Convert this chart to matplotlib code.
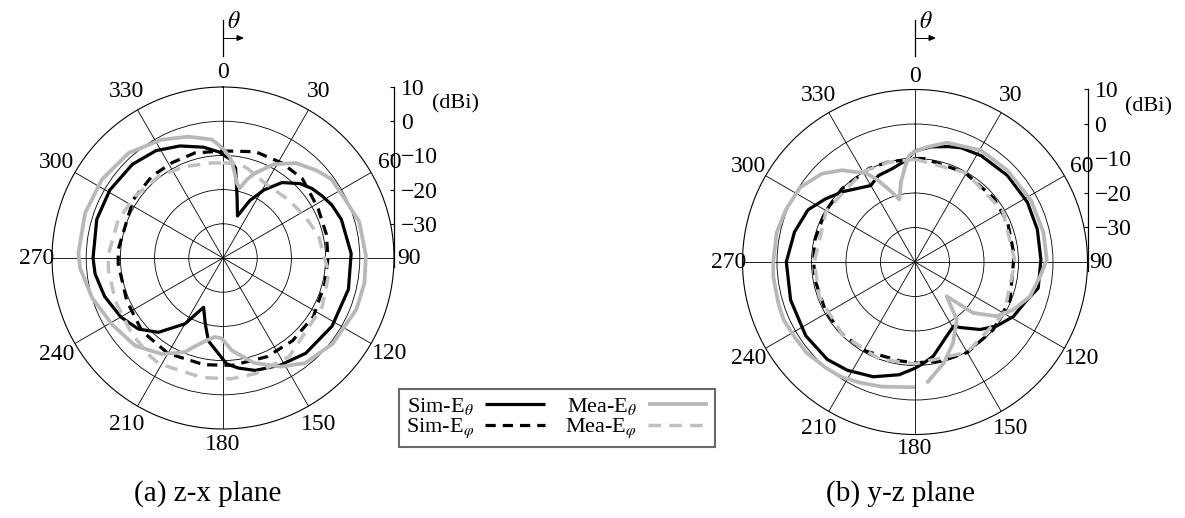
import matplotlib
matplotlib.use('Agg')
import matplotlib.pyplot as plt
import numpy as np
from matplotlib.lines import Line2D

plt.rcParams['font.family'] = ['Liberation Serif', 'DejaVu Serif']
plt.rcParams['mathtext.fontset'] = 'stix'
plt.rcParams['axes.unicode_minus'] = True

# ---------------- data (angle in degrees, gain in dBi) ----------------
# (a) z-x plane
a_sim_th_ang = [0, 4, 8, 13, 19, 25, 31, 38, 46, 52, 58, 64, 72, 88, 104, 122, 139, 152, 164, 172,
                178, 181, 190, 195, 201.5, 210, 221, 230, 240, 252, 263, 270, 287, 301, 316, 328,
                339, 350, 358]
a_sim_th_val = [-9.8, -11, -13.5, -21.7, -27, -21.5, -16.8, -12, -8.7, -7, -5.8, -4.6, -3.6, -2.5,
                -2.2, -2.4, -3.1, -4.5, -5.8, -7.5, -9, -11, -15.4, -20, -24.5, -17.8, -11.2, -7.7,
                -5.5, -3.6, -2.3, -2, -1.4, -1.4, -1.9, -3, -4.9, -7.1, -9]

a_sim_ph_ang = [0, 17, 32, 45, 57, 63, 77, 90, 104, 123, 140, 156, 175, 190, 210, 228, 246, 267,
                275, 303, 319, 332, 345]
a_sim_ph_val = [-8.7, -7.5, -7.3, -7.2, -8.5, -8.7, -9, -9.3, -9.3, -8.5, -8.4, -8.4, -8.5, -8.3,
                -7.8, -8.1, -9.2, -9.3, -9.3, -8.7, -8.3, -8.4, -8.2]

a_mea_th_ang = [0, 4, 7, 10.6, 13.5, 17, 20.5, 28.5, 37.5, 47, 54, 63, 75, 89, 100, 111, 128,
                142, 152, 163.5, 174.5, 181, 186, 192, 198.5, 202, 212.5, 225, 239, 253, 266,
                272, 288, 303, 318, 332.5, 344, 354.5, 357]
a_mea_th_val = [-8, -10.5, -14, -17.8, -19, -16, -13.6, -8.8, -5, -2.5, -0.8, -0.5, 1.2, 1.8, 2,
                1.8, 0.7, -1, -4, -8, -12.8, -16.5, -16.8, -15.2, -12.5, -10.3, -6.7, -3.7, -2.2,
                0, 1.9, 2.3, 2.4, 2.2, 1.3, -1, -3.1, -5.2, -6.5]

a_mea_ph_ang = [0, 10, 16, 30, 48, 63, 77, 89, 98, 116, 146, 164, 176, 190, 211, 216, 230, 248,
                264, 272, 290, 305, 322, 337, 353]
a_mea_ph_val = [-12.2, -12, -13, -15, -14.4, -13.1, -11.3, -10.5, -8.7, -7.7, -5.3, -4.9, -4.6,
                -4.5, -3.9, -4.2, -5.3, -6.1, -6.3, -6.5, -7.4, -8.6, -9.6, -11, -12]

# (b) y-z plane
b_sim_th_ang = [0, 8, 16, 22, 32, 47, 62, 75, 89, 102, 109, 119, 128, 136, 145, 149, 157, 169,
                175, 180, 188, 200, 212, 222, 236, 253, 270, 284, 296, 305, 314, 330, 337, 346, 355]
b_sim_th_val = [-7.8, -6.3, -5.2, -4.3, -3.7, -3.3, -3.1, -3.3, -3.5, -3.5, -5.8, -7.4, -9.9,
                -12.8, -16.8, -18.3, -16.6, -12.2, -10.6, -9.2, -7, -4.6, -3, -2, -1.8, -2.3,
                -2.7, -4, -5.5, -8.2, -10.7, -14.4, -12.8, -12.2, -10.4]

b_sim_ph_ang = [0, 5, 29, 51, 67, 86, 112, 131, 150, 166, 180, 189, 209, 225, 241, 259, 270, 283,
                299, 315, 334, 345]
b_sim_ph_val = [-10, -9.9, -10.3, -10.6, -10.8, -11.2, -10.3, -10, -9.7, -10.3, -10.8, -11,
                -10.5, -10.3, -10.4, -10.6, -10.6, -10.3, -10.2, -10, -9.8, -10]

b_mea_th_ang = [180, 195, 205, 213, 220, 230, 238, 246, 253, 264, 270, 282, 292, 303, 313.5, 321.5,
                326, 331, 335, 340, 346, 350, 354.5, 357, 360, 366, 375, 390.5, 405, 422, 437,
                449, 456.5, 466.6, 475.9, 483.6, 491.2, 497.3, 504, 515, 524, 534.5]
b_mea_th_val = [-3.7, -2.6, -1.5, -0.4, 0.1, 1, 1.1, 1.6, 1.4, 1.3, 1.1, 1, 0.4, -0.3, -2.8,
                -6, -8.5, -10.5, -13.5, -17.5, -21.3, -16.5, -11.7, -9, -8, -6.5, -4.2, -2.4, -2.3,
                -1.9, -1.8, -1.8, -3.5, -5.2, -8.3, -11.6, -17.6, -26.5, -19.4, -14, -9.6, -4.7]

b_mea_ph_ang = [0, 30, 60, 90, 120, 150, 180, 200, 225, 250, 270, 300, 330, 345]
b_mea_ph_val = [-10.2, -10.2, -10.6, -11, -10.2, -9.8, -10.5, -10, -10.2, -10.5, -10.8, -10.3,
                -9.8, -10.1]

angle_ticks = list(range(0, 360, 30))
ring_ticks = [-30, -20, -10, 0]
scale_ticks = [-30, -20, -10, 0, 10]
r_min, r_max = -40, 10
legend_labels = [r'Sim-E$_{\theta}$', r'Sim-E$_{\varphi}$', r'Mea-E$_{\theta}$', r'Mea-E$_{\varphi}$']
captions = ['(a) z-x plane', '(b) y-z plane']

# ---------------- styles ----------------
BLACK = '#000000'
GRAY = '#b8b8b8'
GRAYD = '#c0c0c0'
st_sim_th = dict(color=BLACK, lw=2.3, ls='-')
st_sim_ph = dict(color=BLACK, lw=2.3, ls=(0, (3.2, 2.2)))
st_mea_th = dict(color=GRAY, lw=2.7, ls='-')
st_mea_ph = dict(color=GRAYD, lw=2.5, ls=(0, (3.6, 2.4)))

W, H = 1185, 518
fig = plt.figure(figsize=(W / 100, H / 100), dpi=100)


def closed(ang, val):
    a = np.deg2rad(np.r_[ang, ang[0] + 360])
    v = np.r_[val, val[0]]
    return a, v


def make_polar(cx, cy, R, series, caption):
    ax = fig.add_axes([(cx - R) / W, 1 - (cy + R) / H, 2 * R / W, 2 * R / H], projection='polar')
    ax.set_theta_zero_location('N')
    ax.set_theta_direction(-1)
    ax.set_ylim(r_min, r_max)
    ax.set_yticks(ring_ticks)
    ax.set_yticklabels([])
    ax.set_xticks(np.deg2rad(angle_ticks))
    ax.set_xticklabels([])
    ax.grid(True, color='black', lw=0.6)
    ax.spines['polar'].set_linewidth(0.8)
    handles = []
    for (ang, val, st, close) in series:
        if close:
            a, v = closed(ang, val)
        else:
            a, v = np.deg2rad(ang), np.array(val)
        h, = ax.plot(a, v, zorder=3, solid_capstyle='butt', **st)
        handles.append(h)
    # angle labels
    for t in angle_ticks:
        px = 186 if t % 90 == 0 else 192
        rr = r_min + px / R * (r_max - r_min)
        ax.text(np.deg2rad(t), rr, str(t), ha='center', va='center', fontsize=17, clip_on=False)
    # vertical dB scale
    ybot = cy + 9
    ytop = cy - R
    axr = fig.add_axes([(cx + R) / W, 1 - ybot / H, 0.0001, (ybot - ytop) / H])
    lo = r_min - (ybot - cy) / R * (r_max - r_min)
    axr.set_ylim(lo, r_max)
    axr.set_xticks([])
    for s in ['top', 'bottom', 'right']:
        axr.spines[s].set_visible(False)
    axr.spines['left'].set_linewidth(0.9)
    axr.patch.set_visible(False)
    axr.set_yticks(scale_ticks)
    axr.tick_params(axis='y', left=True, right=False, labelleft=False, labelright=True,
                    direction='out', length=3, width=0.8, labelsize=17, pad=2)
    fig.text((cx + R + 38) / W, 1 - (ytop + 17) / H, '(dBi)', fontsize=16, va='center', ha='left')
    # theta indicator
    fig.add_artist(Line2D([cx / W, cx / W], [1 - 20 / H, 1 - 56 / H], color='black', lw=0.9))
    fig.add_artist(Line2D([cx / W, (cx + 18) / W], [1 - 38 / H, 1 - 38 / H], color='black', lw=0.7))
    fig.patches.append(matplotlib.patches.FancyArrow(
        (cx + 14) / W, 1 - 38 / H, 6 / W, 0, width=0, head_width=5 / H, head_length=6 / W,
        length_includes_head=True, color='black', lw=0.7, transform=fig.transFigure, figure=fig))
    fig.text((cx + 11) / W, 1 - 22 / H, r'$\theta$', fontsize=17, ha='center', va='center')
    fig.text(cx / W - 15 / W, 1 - 494 / H, caption, fontsize=21, ha='center', va='center')
    return handles


series_a = [(a_sim_th_ang, a_sim_th_val, st_sim_th, True),
            (a_sim_ph_ang, a_sim_ph_val, st_sim_ph, True),
            (a_mea_th_ang, a_mea_th_val, st_mea_th, True),
            (a_mea_ph_ang, a_mea_ph_val, st_mea_ph, True)]
series_b = [(b_sim_th_ang, b_sim_th_val, st_sim_th, True),
            (b_sim_ph_ang, b_sim_ph_val, st_sim_ph, True),
            (b_mea_th_ang, b_mea_th_val, st_mea_th, False),
            (b_mea_ph_ang, b_mea_ph_val, st_mea_ph, True)]

ha = make_polar(223, 258, 171, series_a, captions[0])
hb = make_polar(915, 262, 172.5, series_b, captions[1])

leg = fig.legend(handles=ha, labels=legend_labels, ncol=2, loc='upper left',
                 bbox_to_anchor=(388 / W, 1 - 378 / H), fontsize=16, markerfirst=False,
                 handlelength=2.7, columnspacing=0.9, handletextpad=0.5, labelspacing=0.0,
                 borderpad=0.3, fancybox=False, frameon=True)
leg.get_frame().set_edgecolor('#444444')
leg.get_frame().set_linewidth(1.5)

fig.savefig('out.png', dpi=100)
